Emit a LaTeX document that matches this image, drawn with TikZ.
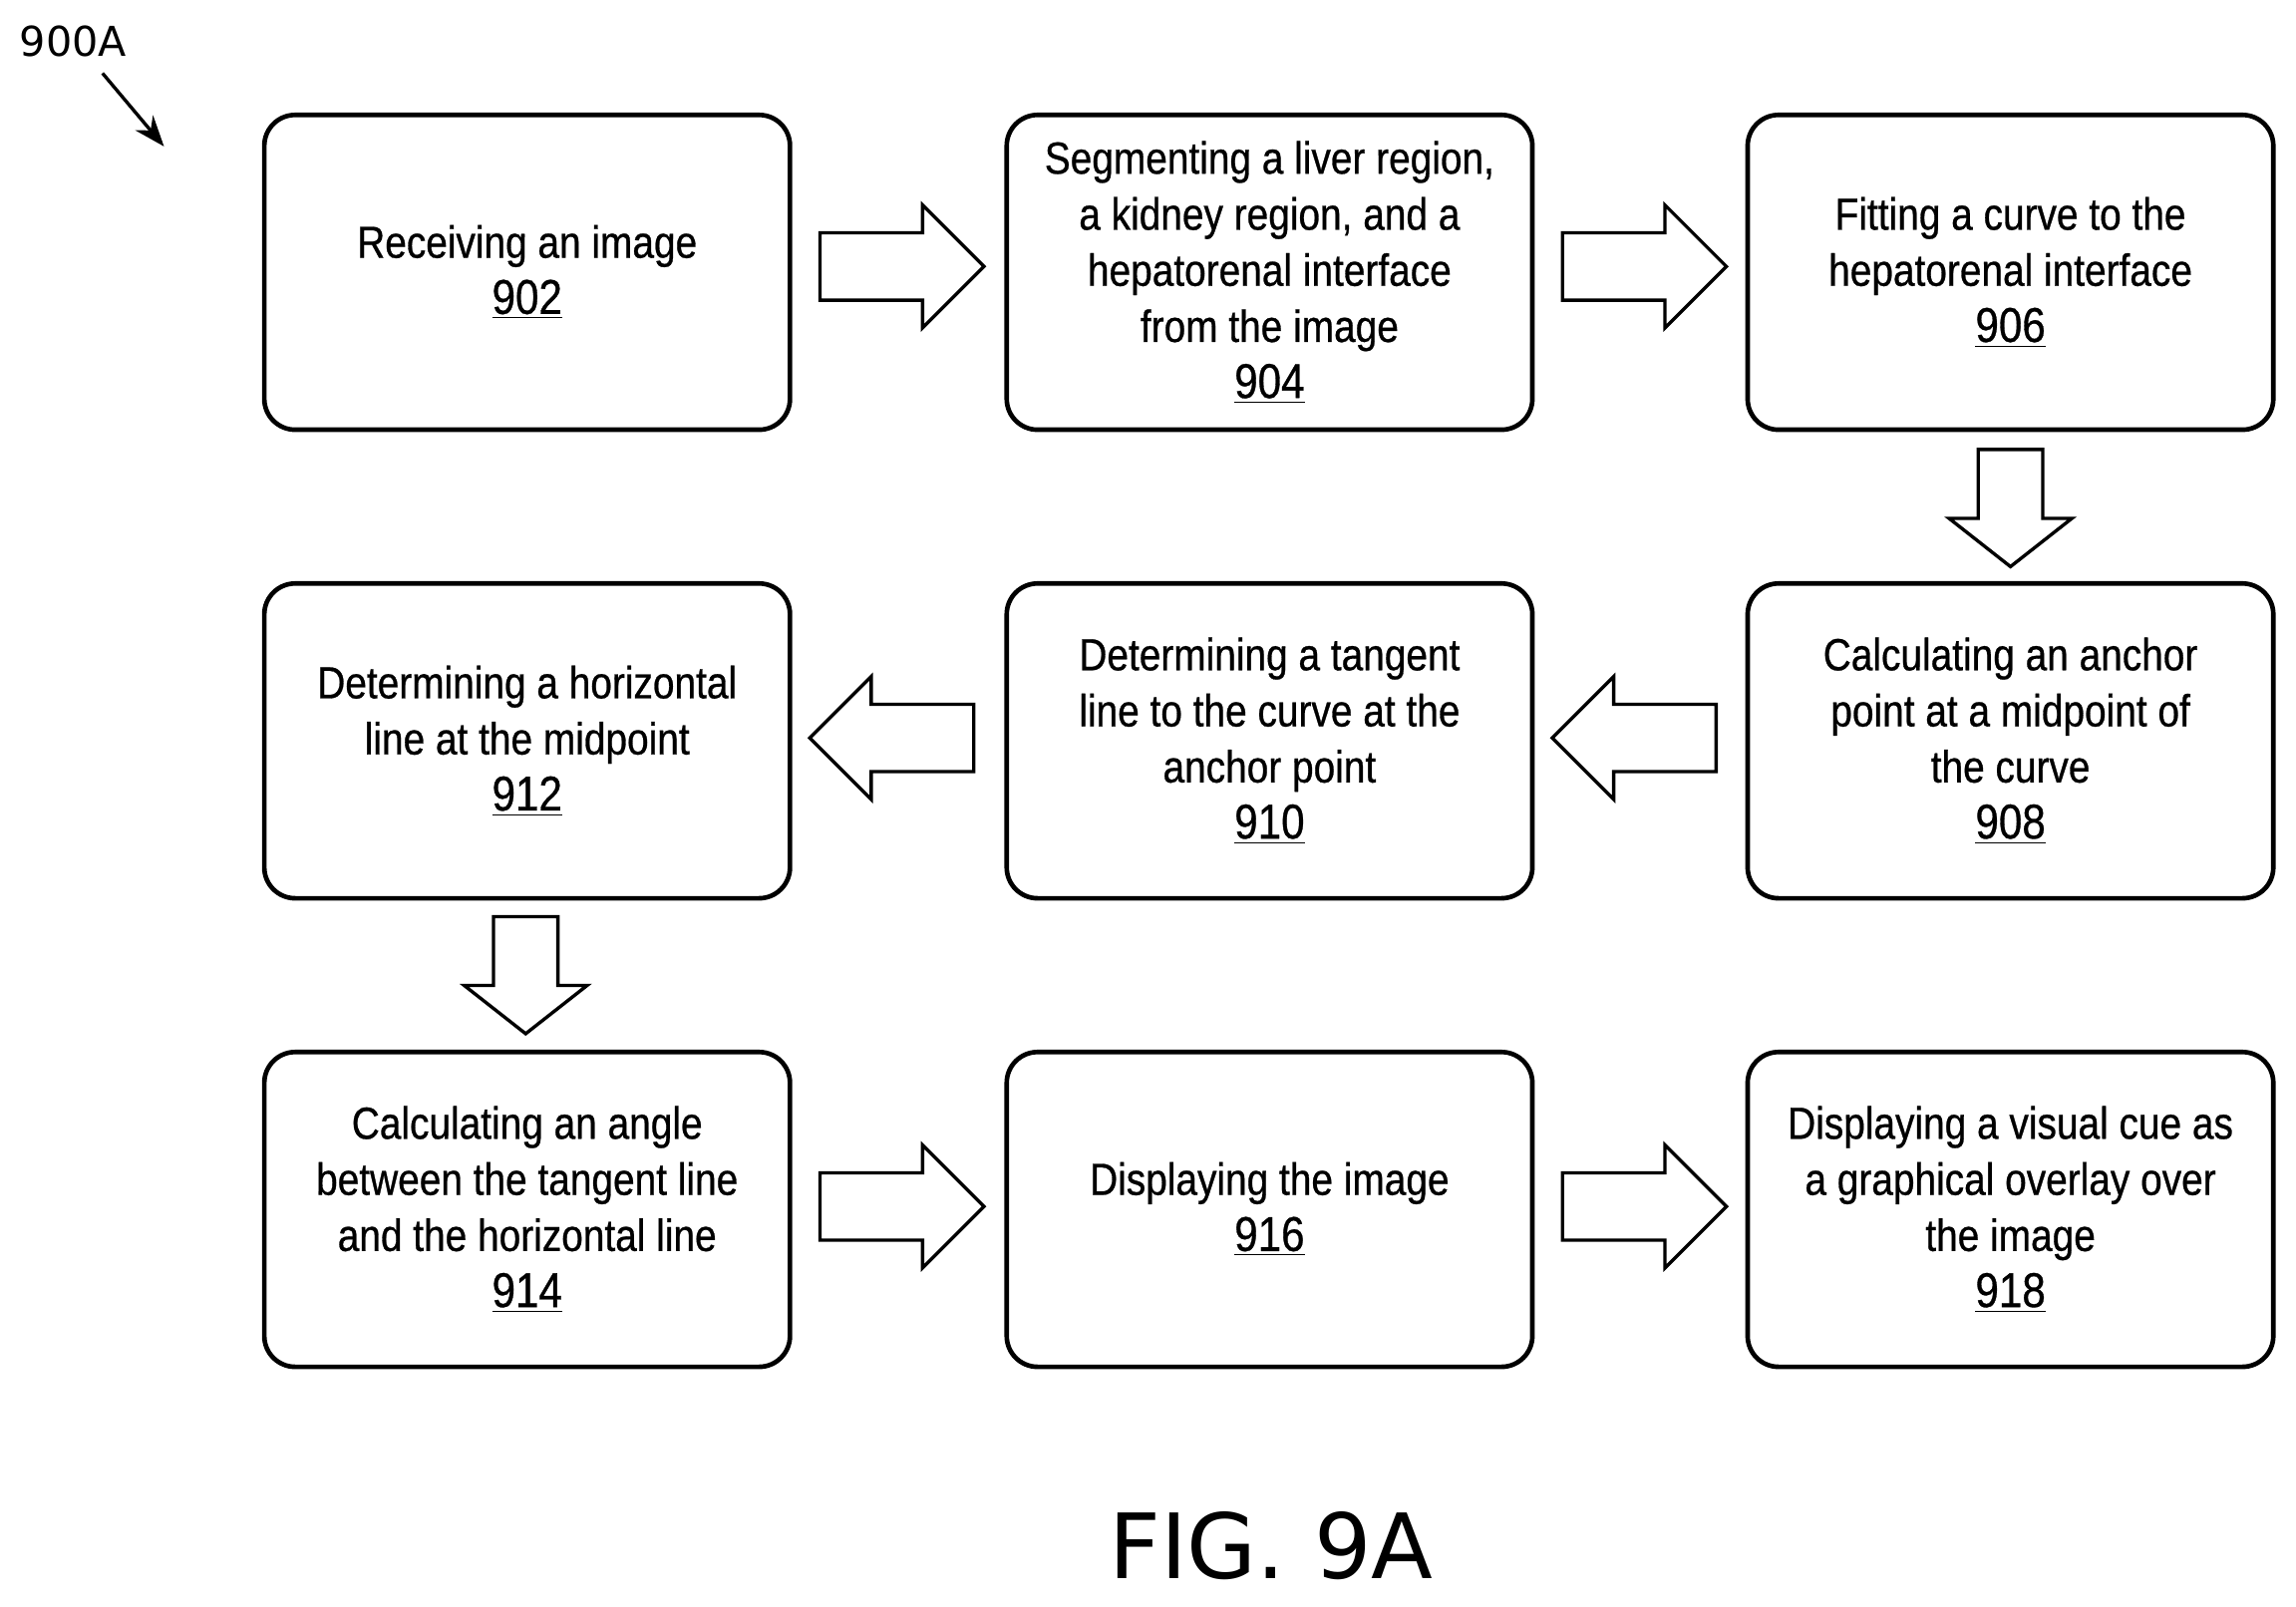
\documentclass[tikz,border=0pt]{standalone}
\usepackage{fontspec}
\setmainfont{Liberation Sans}[FakeStretch=0.86,FakeBold=0.6]
\newfontfamily\figfont{DejaVu Sans}
\usetikzlibrary{arrows.meta}
\newcommand{\numb}[1]{{\fontsize{19}{21.5}\selectfont\underline{#1}}}
\begin{document}
\begin{tikzpicture}[x=0.02cm,y=-0.02cm,
 box/.style={draw,line width=1.8pt,rounded corners=12pt,minimum width=359*0.02cm,minimum height=215*0.02cm,align=center,font=\fontsize{17.5}{21.8}\selectfont,inner sep=2pt},
 pics/rarrow/.style={code={\draw[line width=1.3pt,line join=miter] (-56,-23)--(14,-23)--(14,-42)--(56,0)--(14,42)--(14,23)--(-56,23)--cycle;}},
 pics/larrow/.style={code={\draw[line width=1.3pt,line join=miter] (56,-23)--(-14,-23)--(-14,-42)--(-56,0)--(-14,42)--(-14,23)--(56,23)--cycle;}},
 pics/darrow/.style={code={\draw[line width=1.3pt,line join=miter] (-22,-40)--(22,-40)--(22,7)--(42,7)--(0,40)--(-42,7)--(-22,7)--cycle;}}]
\useasboundingbox (0,0) rectangle (1568,1097);
\node[box] (b902) at (360,186) {Receiving an image\\\numb{902}};
\node[box] (b904) at (867,186) {Segmenting a liver region,\\a kidney region, and a\\hepatorenal interface\\from the image\\\numb{904}};
\node[box] (b906) at (1373,186) {Fitting a curve to the\\hepatorenal interface\\\numb{906}};
\node[box] (b908) at (1373,506) {Calculating an anchor\\point at a midpoint of\\the curve\\\numb{908}};
\node[box] (b910) at (867,506) {Determining a tangent\\line to the curve at the\\anchor point\\\numb{910}};
\node[box] (b912) at (360,506) {Determining a horizontal\\line at the midpoint\\\numb{912}};
\node[box] (b914) at (360,826) {Calculating an angle\\between the tangent line\\and the horizontal line\\\numb{914}};
\node[box] (b916) at (867,826) {Displaying the image\\\numb{916}};
\node[box] (b918) at (1373,826) {Displaying a visual cue as\\a graphical overlay over\\the image\\\numb{918}};
\pic at (616,182) {rarrow};
\pic at (1123,182) {rarrow};
\pic at (1373,347) {darrow};
\pic at (1116,504) {larrow};
\pic at (609,504) {larrow};
\pic at (359,666) {darrow};
\pic at (616,824) {rarrow};
\pic at (1123,824) {rarrow};
\node[font=\figfont\fontsize{16}{16}\selectfont] (lab) at (50,28) {900A};
\coordinate (tip) at (112,100);
\draw[line width=1.3pt,-{Stealth[length=12pt,width=9pt]}] (70,50) -- (tip);
\node[font=\figfont\fontsize{35}{35}\selectfont] (fig) at (868,1056) {FIG. 9A};
\end{tikzpicture}
\end{document}
